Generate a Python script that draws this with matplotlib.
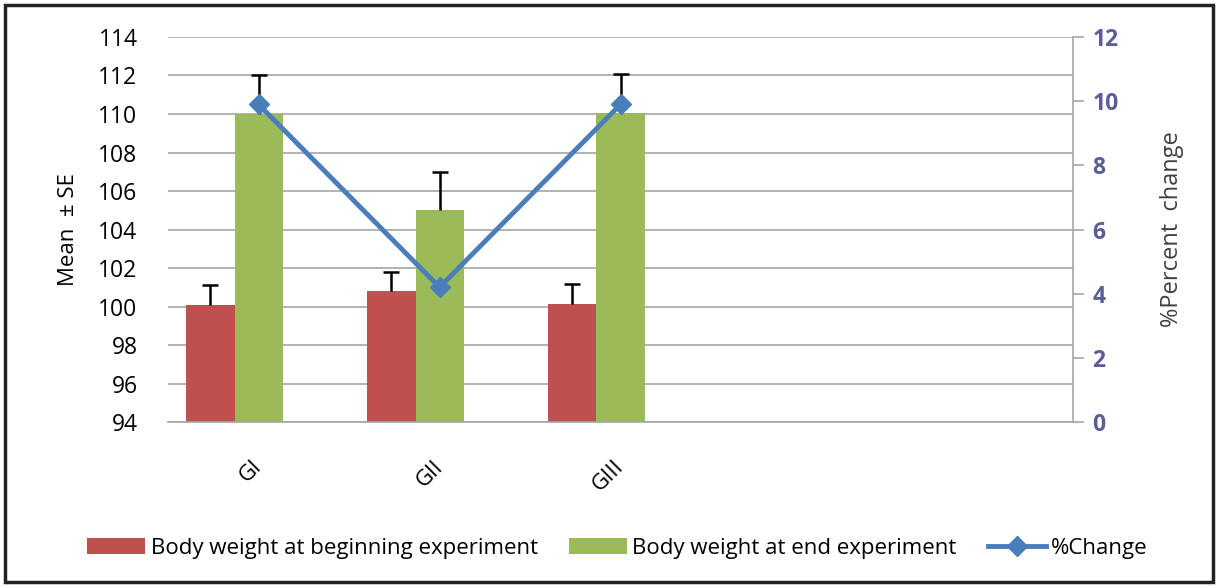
import numpy as np
import matplotlib.pyplot as plt
from matplotlib.patches import Rectangle

# data
groups = ["GI", "GII", "GIII", "", ""]
begin_mean = [100.1, 100.8, 100.15]
begin_se = [1.0, 1.0, 1.0]
end_mean = [110.0, 105.0, 110.05]
end_se = [2.0, 2.0, 2.05]
pct_change = [9.9, 4.2, 9.9]

red = "#c0504d"
green = "#9bbb59"
blue = "#4a7ebb"
grid_c = "#a6a6a6"

plt.rcParams["font.family"] = ["Open Sans", "DejaVu Sans"]

fig = plt.figure(figsize=(12.18, 5.87), dpi=100)
ax = fig.add_axes([0.138, 0.281, 0.743, 0.656])

x = np.arange(len(begin_mean))
w = 0.266
ax.bar(x - w, np.array(begin_mean) - 94, w, bottom=94, color=red, zorder=2,
       label="Body weight at beginning experiment")
ax.bar(x, np.array(end_mean) - 94, w, bottom=94, color=green, zorder=2,
       label="Body weight at end experiment")
# plus-only error bars: hide the lower caps
for xs, m, se in [(x - w, begin_mean, begin_se), (x, end_mean, end_se)]:
    eb = ax.errorbar(xs, m, yerr=[np.zeros(3), se], fmt="none",
                     ecolor="black", elinewidth=1.8, capsize=6, capthick=1.8, zorder=3)
    eb[1][0].set_visible(False)

ax.set_ylim(94, 114)
ax.set_yticks(np.arange(94, 115, 2))
ax.set_xlim(-0.5, len(groups) - 0.5)
ax.set_xticks(np.arange(len(groups)))
ax.set_xticklabels(groups, rotation=45, ha="right", va="center",
                   rotation_mode="anchor", fontsize=16)
ax.tick_params(axis="x", length=0, pad=30)
ax.tick_params(axis="y", length=0, labelsize=16.5, pad=22)
ax.yaxis.grid(True, color=grid_c, linewidth=1.2, zorder=0)
ax.set_axisbelow(True)
for s in ["top", "right", "left"]:
    ax.spines[s].set_visible(False)
ax.spines["bottom"].set_color(grid_c)
ax.spines["bottom"].set_linewidth(1.2)
ax.set_ylabel("Mean  ± SE", fontsize=16, labelpad=14)

ax2 = ax.twinx()
ax2.plot(x, pct_change, color=blue, linewidth=3.5, marker="D", markersize=10,
         zorder=4, label="%Change")
ax2.set_ylim(0, 12)
ax2.set_yticks(np.arange(0, 13, 2))
for s in ["top", "left", "bottom"]:
    ax2.spines[s].set_visible(False)
ax2.spines["right"].set_color(grid_c)
ax2.spines["right"].set_linewidth(1.2)
ax2.tick_params(axis="y", colors=grid_c, labelcolor="#5c5c96", length=8,
                width=1.2, labelsize=16.5, pad=6)
for t in ax2.get_yticklabels():
    t.set_fontweight("bold")
ax2.set_ylabel("%Percent  change", fontsize=17, color="#404040", labelpad=30)

h1, l1 = ax.get_legend_handles_labels()
h2, l2 = ax2.get_legend_handles_labels()
fig.legend(h1 + h2, l1 + l2, loc="center", bbox_to_anchor=(0.507, 0.066),
           ncol=3, frameon=False, handlelength=2.6, handleheight=0.7,
           columnspacing=1.4, handletextpad=0.25,
           prop={"family": ["Liberation Sans Narrow", "Open Sans"], "size": 16})

fig.patches.append(Rectangle((0.004, 0.008), 0.992, 0.984, transform=fig.transFigure,
                             fill=False, edgecolor="#222222", linewidth=2.5))

fig.savefig("out.png", dpi=100)
